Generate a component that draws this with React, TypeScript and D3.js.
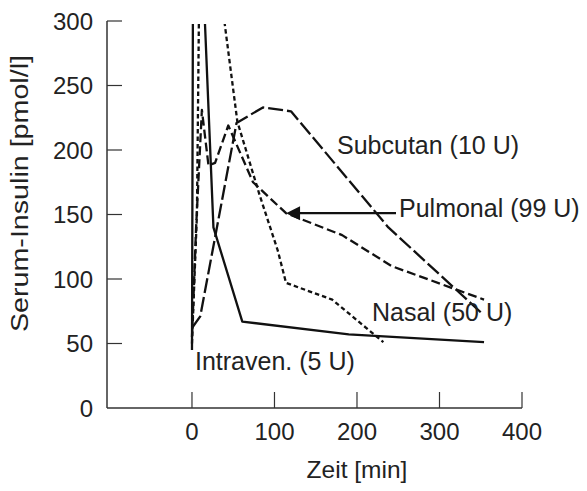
import React, { useEffect, useRef } from 'react';
import * as d3 from 'd3';

// Zeit [min] / Serum-Insulin [pmol/l]
const intravenTime = [0, 2, 26, 61, 190, 354];
const intravenValue = [45, 510, 140, 67, 57, 51];

const subcutanTime = [0, 10, 54, 86, 120, 238, 352];
const subcutanValue = [62, 71, 221, 233, 230, 140, 73];

const pulmonalTime = [0, 5, 12, 20, 28, 44, 74, 114, 182, 242, 354];
const pulmonalValue = [55, 140, 231, 188, 190, 219, 175, 151, 134, 110, 84];

const nasalTime = [0, 6, 9, 20, 55, 82, 104, 114, 170, 232];
const nasalValue = [50, 150, 340, 395, 222, 165, 122, 97, 84, 51];

const xTicks = [0, 100, 200, 300, 400];
const yTicks = [0, 50, 100, 150, 200, 250, 300];

const seriesLabels = ['Subcutan (10 U)', 'Pulmonal (99 U)', 'Nasal (50 U)', 'Intraven. (5 U)'];

const width = 587;
const height = 491;
const font = '"Liberation Sans", Arial, sans-serif';

const App: React.FC = () => {
  const svgRef = useRef<SVGSVGElement>(null);

  useEffect(() => {
    document.body.style.margin = '0';
    if (!svgRef.current) return;
    const svg = d3.select(svgRef.current);
    svg.selectAll('*').remove();

    const x = d3.scaleLinear().domain([-103, 400]).range([107, 522]);
    const y = d3.scaleLinear().domain([0, 300]).range([408, 21]);

    svg.append('rect').attr('width', width).attr('height', height).attr('fill', '#fff');

    const defs = svg.append('defs');
    defs.append('clipPath').attr('id', 'plot-clip')
      .append('rect')
      .attr('x', x(-103))
      .attr('y', 24)
      .attr('width', x(400) - x(-103))
      .attr('height', y(0) - 24);

    // axes
    const axisColor = '#333';
    svg.append('line')
      .attr('x1', x(-103)).attr('x2', x(-103))
      .attr('y1', y(300)).attr('y2', y(0))
      .attr('stroke', axisColor).attr('stroke-width', 1.5);
    svg.append('line')
      .attr('x1', x(-103)).attr('x2', x(400))
      .attr('y1', y(0)).attr('y2', y(0))
      .attr('stroke', axisColor).attr('stroke-width', 1.5);

    yTicks.forEach(t => {
      if (t > 0) {
        svg.append('line')
          .attr('x1', x(-103)).attr('x2', x(-103) + 15)
          .attr('y1', y(t)).attr('y2', y(t))
          .attr('stroke', axisColor).attr('stroke-width', 1.2);
      }
      svg.append('text')
        .attr('x', x(-103) - 14)
        .attr('y', y(t))
        .attr('dy', '0.36em')
        .attr('text-anchor', 'end')
        .style('font-family', font)
        .style('font-size', '24px')
        .attr('fill', '#222')
        .text(t);
    });

    xTicks.forEach(t => {
      svg.append('line')
        .attr('x1', x(t)).attr('x2', x(t))
        .attr('y1', y(0) - 16).attr('y2', y(0))
        .attr('stroke', axisColor).attr('stroke-width', 1.2);
      svg.append('text')
        .attr('x', x(t))
        .attr('y', 440)
        .attr('text-anchor', 'middle')
        .style('font-family', font)
        .style('font-size', '24px')
        .attr('fill', '#222')
        .text(t);
    });

    svg.append('text')
      .attr('x', (x(0) + x(400)) / 2)
      .attr('y', 478)
      .attr('text-anchor', 'middle')
      .style('font-family', font)
      .style('font-size', '24.5px')
      .attr('fill', '#222')
      .text('Zeit [min]');

    svg.append('text')
      .attr('transform', `translate(28, ${(55 + 332) / 2}) rotate(-90)`)
      .attr('text-anchor', 'middle')
      .attr('textLength', 277)
      .attr('lengthAdjust', 'spacingAndGlyphs')
      .style('font-family', font)
      .style('font-size', '23px')
      .attr('fill', '#222')
      .text('Serum-Insulin [pmol/l]');

    // curves
    const line = d3.line<[number, number]>()
      .x(d => x(d[0]))
      .y(d => y(d[1]));

    const series = [
      { t: intravenTime, v: intravenValue, dash: null },
      { t: subcutanTime, v: subcutanValue, dash: '15 4' },
      { t: pulmonalTime, v: pulmonalValue, dash: '9 4' },
      { t: nasalTime, v: nasalValue, dash: '4.5 3' }
    ];

    const plot = svg.append('g').attr('clip-path', 'url(#plot-clip)');
    series.forEach(s => {
      const pts = s.t.map((t, i) => [t, s.v[i]] as [number, number]);
      plot.append('path')
        .attr('d', line(pts))
        .attr('fill', 'none')
        .attr('stroke', '#111')
        .attr('stroke-width', 2.3)
        .attr('stroke-linejoin', 'round')
        .attr('stroke-dasharray', s.dash);
    });

    // labels
    const labelPos: [number, number][] = [[337, 154], [399, 217], [372, 321], [195, 370]];
    seriesLabels.forEach((label, i) => {
      svg.append('text')
        .attr('x', labelPos[i][0])
        .attr('y', labelPos[i][1])
        .style('font-family', font)
        .style('font-size', '25px')
        .attr('fill', '#222')
        .text(label);
    });

    // arrow to the pulmonal curve
    const tipX = x(114);
    const tipY = y(151);
    svg.append('line')
      .attr('x1', 396).attr('x2', tipX + 10)
      .attr('y1', tipY).attr('y2', tipY)
      .attr('stroke', '#111').attr('stroke-width', 2.3);
    svg.append('path')
      .attr('d', `M${tipX},${tipY} L${tipX + 14},${tipY - 7} L${tipX + 14},${tipY + 7} Z`)
      .attr('fill', '#111');
  }, []);

  return (
    <svg
      ref={svgRef}
      width={width}
      height={height}
      style={{ display: 'block', background: '#fff' }}
    />
  );
};

export default App;
